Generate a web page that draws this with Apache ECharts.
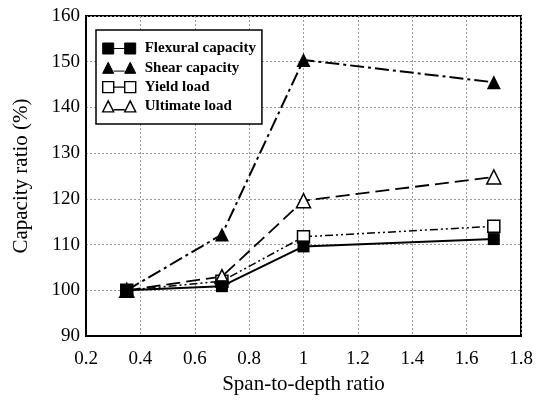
<!DOCTYPE html>
<html><head><meta charset="utf-8">
<script src="https://cdn.jsdelivr.net/npm/echarts@6/dist/echarts.min.js"></script>
<style>html,body{margin:0;padding:0;background:#fff}#c{width:545px;height:400px}</style>
</head><body><div id="c"></div>
<script>
const spanRatio = [0.35, 0.7, 1, 1.7];
const flexural = [100, 100.9, 109.6, 111.2];
const shear = [100, 112.2, 150.4, 145.5];
const yieldLoad = [100, 102, 111.7, 114.0];
const ultimate = [100, 103, 119.6, 124.8];
const names = ['Flexural capacity', 'Shear capacity', 'Yield load', 'Ultimate load'];

const font = 'Liberation Serif';
function pts(vals){ return spanRatio.map((x,i)=>[x, vals[i]]); }

const icoSq = 'path://M0,0h10v10h-10z M10,5H20 M20,0h10v10h-10z';
const icoTri = 'path://M5,0L10,10H0z M10,8H20 M25,0L30,10H20z';
const filled = { color: '#000', borderColor: '#000', borderWidth: 1 };
const hollow = { color: '#fff', borderColor: '#000', borderWidth: 1.4 };

const chart = echarts.init(document.getElementById('c'));
chart.setOption({
  animation: false,
  grid: { left: 86, right: 24, top: 16, bottom: 60, show: true, borderColor: '#000', borderWidth: 2, backgroundColor: 'transparent' },
  xAxis: {
    type: 'value', min: 0.2, max: 1.8, interval: 0.2,
    name: 'Span-to-depth ratio', nameLocation: 'middle', nameGap: 38,
    nameTextStyle: { fontFamily: font, fontSize: 21, color: '#000' },
    axisLine: { lineStyle: { color: '#000', width: 2 } },
    axisTick: { show: false },
    axisLabel: { fontFamily: font, fontSize: 19, color: '#000', margin: 14, formatter: v => String(Math.round(v*10)/10) },
    splitLine: { show: true, lineStyle: { color: '#999', type: [2,2], width: 1 } }
  },
  yAxis: {
    type: 'value', min: 90, max: 160, interval: 10,
    name: 'Capacity ratio (%)', nameLocation: 'middle', nameGap: 54,
    nameTextStyle: { fontFamily: font, fontSize: 21, color: '#000' },
    axisLine: { show: true, lineStyle: { color: '#000', width: 2 } },
    axisTick: { show: false },
    axisLabel: { fontFamily: font, fontSize: 19, color: '#000', margin: 6 },
    splitLine: { show: true, lineStyle: { color: '#999', type: [2,2], width: 1 } }
  },
  legend: {
    show: true, orient: 'vertical', left: 96, top: 30,
    backgroundColor: '#fff', borderColor: '#000', borderWidth: 1.5,
    padding: [11, 6, 10, 6], itemGap: 4.3, itemWidth: 37, itemHeight: 11,
    textStyle: { fontFamily: font, fontSize: 15, fontWeight: 'bold', color: '#000', padding: [0,0,0,2] },
    data: [
      { name: names[0], icon: icoSq, itemStyle: filled },
      { name: names[1], icon: icoTri, itemStyle: filled },
      { name: names[2], icon: icoSq, itemStyle: hollow },
      { name: names[3], icon: icoTri, itemStyle: hollow }
    ]
  },
  series: [
    { name: names[0], type: 'line', data: pts(flexural), symbol: 'rect', symbolSize: 12,
      itemStyle: { color: '#000' }, lineStyle: { color: '#000', width: 2, type: 'solid' }, z: 5 },
    { name: names[1], type: 'line', data: pts(shear), symbol: 'triangle', symbolSize: 14,
      itemStyle: { color: '#000' }, lineStyle: { color: '#000', width: 2, type: [14,4,3,4] }, z: 4 },
    { name: names[2], type: 'line', data: pts(yieldLoad), symbol: 'rect', symbolSize: 12,
      itemStyle: { color: '#fff', borderColor: '#000', borderWidth: 1.5 }, lineStyle: { color: '#000', width: 1.5, type: [8,3,2,3,2,3] }, z: 3 },
    { name: names[3], type: 'line', data: pts(ultimate), symbol: 'triangle', symbolSize: 14,
      itemStyle: { color: '#fff', borderColor: '#000', borderWidth: 1.5 }, lineStyle: { color: '#000', width: 1.8, type: [14,6] }, z: 3 }
  ]
});
</script></body></html>
